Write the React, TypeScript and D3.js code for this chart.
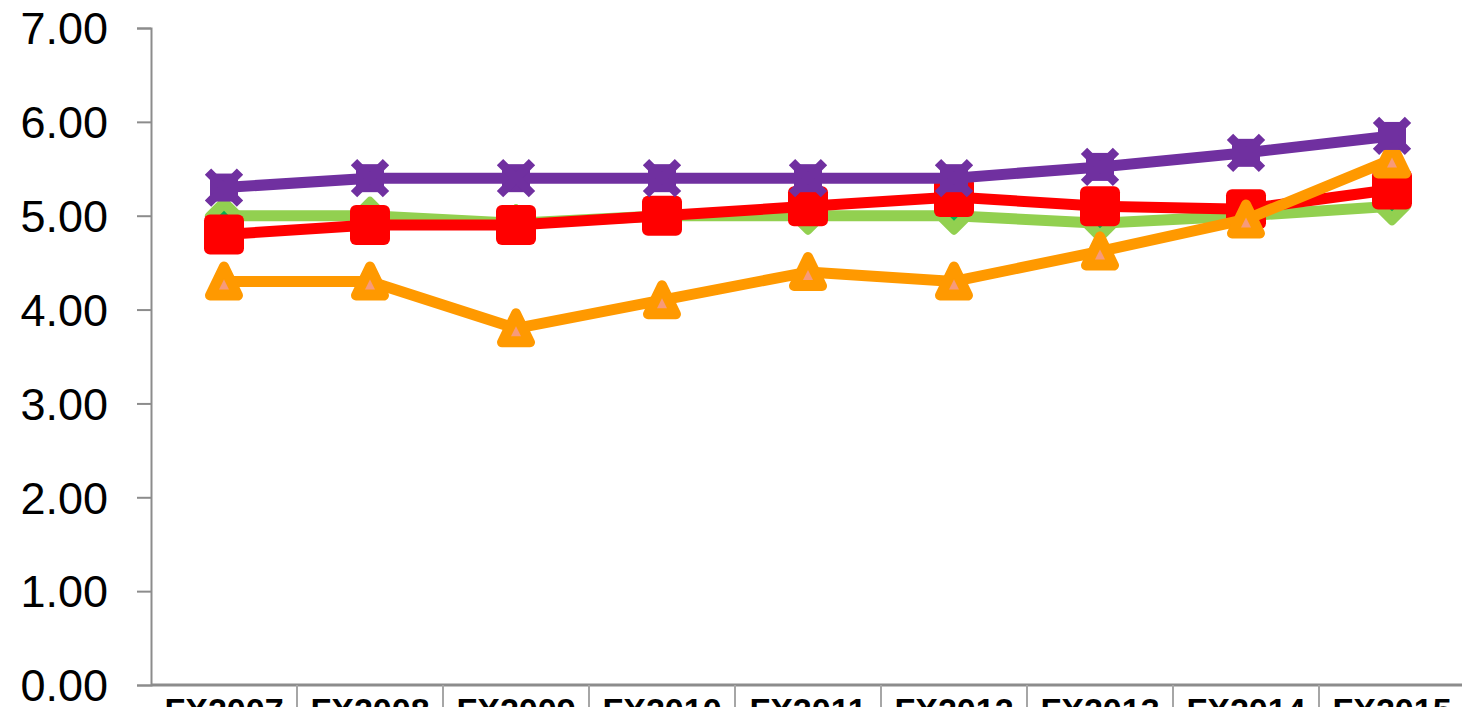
import React, { useEffect, useRef } from 'react';
import * as d3 from 'd3';

const categories = ['FX2007', 'FX2008', 'FX2009', 'FX2010', 'FX2011', 'FX2012', 'FX2013', 'FX2014', 'FX2015'];
const greenValues = [5.0, 5.0, 4.92, 5.0, 5.0, 5.0, 4.92, 5.0, 5.1];
const redValues = [4.8, 4.9, 4.9, 5.0, 5.1, 5.2, 5.1, 5.07, 5.28];
const orangeValues = [4.3, 4.3, 3.8, 4.1, 4.4, 4.3, 4.62, 4.96, 5.6];
const purpleValues = [5.3, 5.4, 5.4, 5.4, 5.4, 5.4, 5.52, 5.67, 5.85];
const yTicks = [0, 1, 2, 3, 4, 5, 6, 7];

const W = 1462;
const H = 707;

const App: React.FC = () => {
  const svgRef = useRef<SVGSVGElement>(null);

  useEffect(() => {
    if (!svgRef.current) return;
    const svg = d3.select(svgRef.current);
    svg.selectAll('*').remove();

    const x = d3.scaleBand<string>().domain(categories).range([151, 1465]);
    const y = d3.scaleLinear().domain([0, 7]).range([685, 28]);
    const font = "'Liberation Sans', Arial, sans-serif";
    const axisColor = '#8c8c8c';

    // y axis
    const yAxis = svg.append('g').attr('transform', 'translate(151,0)')
      .call(d3.axisLeft(y).tickValues(yTicks).tickSize(14).tickFormat(d => d3.format('.2f')(d as number)));
    yAxis.select('.domain').attr('stroke', axisColor).attr('stroke-width', 2);
    yAxis.selectAll('.tick line').attr('stroke', axisColor).attr('stroke-width', 2);
    yAxis.selectAll('.tick text')
      .attr('x', -43)
      .attr('dy', '0.35em')
      .attr('fill', '#000')
      .attr('font-size', 45)
      .attr('font-family', font);

    // x axis
    const xAxisG = svg.append('g');
    xAxisG.append('line')
      .attr('x1', 151).attr('x2', W).attr('y1', 685).attr('y2', 685)
      .attr('stroke', axisColor).attr('stroke-width', 3);
    xAxisG.selectAll('.sep')
      .data(categories.slice(1))
      .enter()
      .append('line')
      .attr('x1', d => x(d)!).attr('x2', d => x(d)!)
      .attr('y1', 685).attr('y2', H)
      .attr('stroke', '#a6a6a6').attr('stroke-width', 2);
    xAxisG.selectAll('.cat')
      .data(categories)
      .enter()
      .append('text')
      .attr('x', d => x(d)! + x.bandwidth() / 2)
      .attr('y', 722)
      .attr('text-anchor', 'middle')
      .attr('font-size', 34)
      .attr('font-weight', 'bold')
      .attr('font-family', font)
      .attr('fill', '#000')
      .text(d => d);

    const cx = (i: number) => x(categories[i])! + x.bandwidth() / 2;
    const line = d3.line<number>()
      .x((_d, i) => cx(i))
      .y(d => y(d));

    const drawLine = (vals: number[], color: string) => {
      svg.append('path')
        .datum(vals)
        .attr('d', line)
        .attr('fill', 'none')
        .attr('stroke', color)
        .attr('stroke-width', 11)
        .attr('stroke-linejoin', 'round');
    };

    // green diamonds
    drawLine(greenValues, '#92d050');
    const gm = svg.selectAll('.gm').data(greenValues).enter().append('g')
      .attr('transform', (d, i) => `translate(${cx(i)},${y(d)})`);
    gm.append('path').attr('d', 'M0,-15L15,0L0,15L-15,0Z')
      .attr('fill', '#92d050').attr('stroke', '#92d050').attr('stroke-width', 8).attr('stroke-linejoin', 'round');
    gm.append('path').attr('d', 'M0,-5L5,0L0,5L-5,0Z').attr('fill', '#00b050');

    // red squares
    drawLine(redValues, '#ff0000');
    svg.selectAll('.rm').data(redValues).enter().append('rect')
      .attr('x', (_d, i) => cx(i) - 20)
      .attr('y', d => y(d) - 20)
      .attr('width', 40).attr('height', 40).attr('rx', 6)
      .attr('fill', '#ff0000');

    // orange triangles
    drawLine(orangeValues, '#ff9900');
    const om = svg.selectAll('.om').data(orangeValues).enter().append('g')
      .attr('transform', (d, i) => `translate(${cx(i)},${y(d)})`);
    om.append('path').attr('d', 'M0,-15L14,14L-14,14Z')
      .attr('fill', '#ff9900').attr('stroke', '#ff9900').attr('stroke-width', 10).attr('stroke-linejoin', 'round');
    om.append('path').attr('d', 'M0,-2L5,8L-5,8Z').attr('fill', '#f79a7a');

    // purple crosses
    drawLine(purpleValues, '#7030a0');
    const pm = svg.selectAll('.pm').data(purpleValues).enter().append('g')
      .attr('transform', (d, i) => `translate(${cx(i)},${y(d)})`);
    pm.append('rect').attr('x', -14).attr('y', -14).attr('width', 28).attr('height', 28).attr('fill', '#7030a0');
    pm.append('path').attr('d', 'M-16,-16L16,16M16,-16L-16,16')
      .attr('stroke', '#7030a0').attr('stroke-width', 9);
  }, []);

  return (
    <svg ref={svgRef} width={W} height={H}
      style={{ position: 'absolute', left: 0, top: 0, background: '#fff' }} />
  );
};

export default App;
